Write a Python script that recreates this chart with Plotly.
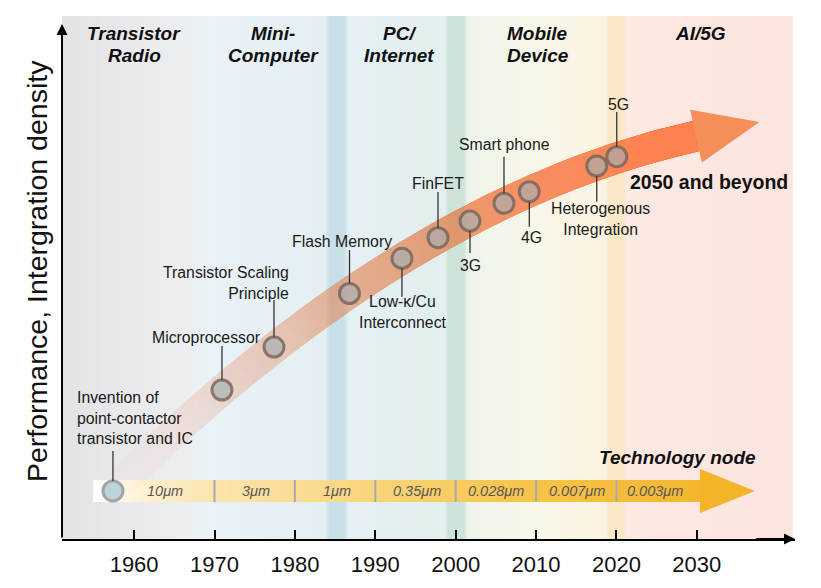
import numpy as np
import plotly.graph_objects as go

# ---------------- data ----------------
tick_years = [1960, 1970, 1980, 1990, 2000, 2010, 2020, 2030]
tick_labels = ["1960", "1970", "1980", "1990", "2000", "2010", "2020", "2030"]

era_line1 = ["Transistor", "Mini-", "PC/", "Mobile", "AI/5G"]
era_line2 = ["Radio", "Computer", "Internet", "Device", ""]
era_center = [1960.0, 1977.3, 1993.0, 2010.2, 2030.4]

milestone_names = [
    "Invention of<br>point-contactor<br>transistor and IC",
    "Microprocessor",
    "Transistor Scaling<br>Principle",
    "Flash Memory",
    "Low-κ/Cu<br>Interconnect",
    "FinFET",
    "3G",
    "Smart phone",
    "4G",
    "Heterogenous<br>Integration",
    "5G",
]
milestone_year = [1957.37, 1970.93, 1977.40, 1986.79, 1993.32, 1997.80,
                  2001.78, 2006.01, 2009.16, 2017.55, 2020.04]
milestone_perf = [9.18, 28.49, 36.71, 46.94, 53.67, 57.61,
                  60.80, 64.19, 66.41, 71.32, 73.10]

node_labels = ["10μm", "3μm", "1μm", "0.35μm", "0.028μm", "0.007μm", "0.003μm"]
node_center = [1963.90, 1975.10, 1985.24, 1995.19, 2005.02, 2015.03, 2024.79]
node_bounds = [1970, 1980, 1990, 2000, 2010, 2020]

# ---------------- layout geometry / styles ----------------
# the page adds an 8px body margin, so the figure is drawn 8px smaller
OFF = 8
W, H = 821 - OFF, 588 - OFF
ML, MR, MT, MB = 62 - OFF, 26, 16 - OFF, 49
X0, X1 = 1951.03, 2042.21
Y0, Y1 = 0.0, 100.0
PW, PH = W - ML - MR, H - MT - MB
FONT = "Liberation Sans, Arial, Helvetica, sans-serif"


# helpers work in page pixel coordinates of the final screenshot
def xpx(x):
    return (ML + OFF) + (np.asarray(x) - X0) * PW / (X1 - X0)


def ypx(y):
    return (H - MB + OFF) - (np.asarray(y) - Y0) * PH / (Y1 - Y0)


def xdat(px):
    return X0 + (np.asarray(px) - ML - OFF) * (X1 - X0) / PW


def ydat(py):
    return Y0 + ((H - MB + OFF) - np.asarray(py)) * (Y1 - Y0) / PH


fig = go.Figure()

# ---- era background (horizontal gradient) ----
bg_stops = [
    (1951.03, "#e3e3e5"), (1966.0, "#edeef0"), (1969.3, "#e9f2f6"),
    (1983.8, "#e3eff3"), (1984.3, "#c9dfe8"), (1986.1, "#c9dfe8"),
    (1986.7, "#e4f0f3"), (1998.7, "#e2efee"), (1999.1, "#cde2d9"),
    (2001.0, "#cde2d9"), (2001.5, "#eef4ea"), (2010.0, "#f8f7e9"),
    (2018.6, "#fbf3e2"), (2019.1, "#fae8c6"), (2020.8, "#fae8c6"),
    (2021.3, "#fce9e2"), (2042.0, "#fce4df"),
]
bg_lo, bg_hi = bg_stops[0][0], bg_stops[-1][0]
bg_edges = np.linspace(bg_lo, bg_hi, 1001)
bg_mid = (bg_edges[:-1] + bg_edges[1:]) / 2
fig.add_trace(go.Heatmap(
    x=bg_edges, y=[Y0, Y1], z=[bg_mid], zmin=bg_lo, zmax=bg_hi,
    colorscale=[[(yr - bg_lo) / (bg_hi - bg_lo), c] for yr, c in bg_stops],
    showscale=False, hoverinfo="skip"))

# ---- technology-node bar ----
bar_x0, bar_x1 = float(xdat(93)), float(xdat(700))
bar_y0, bar_y1 = float(ydat(502)), float(ydat(480))
bar_mid_y = (bar_y0 + bar_y1) / 2
bar_stops = [
    (bar_x0, "#ffffff"), (1957.5, "#fefbf2"), (1962.0, "#fcefcc"),
    (1970.0, "#fbe4ad"), (1990.0, "#f9d47a"), (2010.0, "#f6c34a"),
    (bar_x1, "#f4b62e"),
]
bar_edges = np.linspace(bar_x0, bar_x1, 401)
bar_mid = (bar_edges[:-1] + bar_edges[1:]) / 2
fig.add_trace(go.Heatmap(
    x=bar_edges, y=[bar_y0, bar_y1], z=[bar_mid], zmin=bar_x0, zmax=bar_x1,
    colorscale=[[(yr - bar_x0) / (bar_x1 - bar_x0), c] for yr, c in bar_stops],
    showscale=False, hoverinfo="skip"))
head_half = float(ydat(469)) - bar_mid_y
head_tip = float(xdat(755))
fig.add_trace(go.Scatter(
    x=[bar_x1, head_tip, bar_x1, bar_x1],
    y=[bar_mid_y + head_half, bar_mid_y, bar_mid_y - head_half, bar_mid_y + head_half],
    mode="lines", fill="toself", fillcolor="#f4b42a", line=dict(width=0),
    hoverinfo="skip", showlegend=False))

# ---- orange trend band (fit through milestones) ----
mx, my = xpx(milestone_year), ypx(milestone_perf)
coef = np.polyfit(mx, my, 2)
dcoef = np.polyder(coef)
s = np.linspace(100, 696, 100)
cy = np.polyval(coef, s)
dy = np.polyval(dcoef, s)
nrm = np.sqrt(1 + dy ** 2)
tx, ty = 1 / nrm, dy / nrm
nx, ny = -ty, tx
HW = 15.5
ux, uy = s + HW * nx, cy + HW * ny
lx, ly = s - HW * nx, cy - HW * ny

a_px = [100, 150, 222, 274, 349, 402, 470, 530, 600, 696]
a_val = [0.0, 0.07, 0.22, 0.34, 0.53, 0.62, 0.72, 0.80, 0.87, 0.92]
alpha = np.interp(s, a_px, a_val)
band_rgb = "244,136,80"
prev = 0.0
for i in range(len(s) - 1):
    a = alpha[i]
    if a <= prev + 1e-6:
        continue
    d = 1 - (1 - a) / (1 - prev)
    prev = a
    px_poly = np.concatenate([ux[i:], lx[i:][::-1], [ux[i]]])
    py_poly = np.concatenate([uy[i:], ly[i:][::-1], [uy[i]]])
    fig.add_trace(go.Scatter(
        x=xdat(px_poly), y=ydat(py_poly), mode="lines", fill="toself",
        fillcolor=f"rgba({band_rgb},{d:.4f})", line=dict(width=0),
        hoverinfo="skip", showlegend=False))

# arrow head of trend band
bx, by = s[-1], cy[-1]
etx, ety, enx, eny = tx[-1], ty[-1], nx[-1], ny[-1]
HH, HL = 27, 65
ah_x = [bx + HH * enx, bx + HL * etx, bx - HH * enx, bx + HH * enx]
ah_y = [by + HH * eny, by + HL * ety, by - HH * eny, by + HH * eny]
fig.add_trace(go.Scatter(
    x=xdat(ah_x), y=ydat(ah_y), mode="lines", fill="toself",
    fillcolor=f"rgba({band_rgb},0.93)", line=dict(width=0),
    hoverinfo="skip", showlegend=False))

# ---- milestone markers ----
fig.add_trace(go.Scatter(
    x=milestone_year[1:], y=milestone_perf[1:], mode="markers",
    marker=dict(size=20, color="rgba(165,175,178,0.65)",
                line=dict(color="rgba(120,100,90,0.82)", width=3)),
    hoverinfo="skip", showlegend=False))
fig.add_trace(go.Scatter(
    x=milestone_year[:1], y=milestone_perf[:1], mode="markers",
    marker=dict(size=20, color="#bcd5db", line=dict(color="#a4a4a4", width=3)),
    hoverinfo="skip", showlegend=False))

# ---- milestone labels & leader lines ----
# (label x, label y, xanchor, leader end) in data units
label_pos = [
    (xdat(75), ydat(417.5), "left", ydat(451)),
    (xdat(262), ydat(337), "right", ydat(346)),
    (xdat(291), ydat(282.5), "right", ydat(300)),
    (xdat(341.7), ydat(241.7), "center", ydat(250)),
    (xdat(403), ydat(312.2), "center", ydat(296.7)),
    (xdat(438.3), ydat(183.3), "center", ydat(192)),
    (xdat(470), ydat(265.7), "center", ydat(253)),
    (xdat(504), ydat(144), "center", ydat(156.7)),
    (xdat(531), ydat(237.3), "center", ydat(226.7)),
    (xdat(600), ydat(219.2), "center", ydat(201.7)),
    (xdat(618), ydat(104), "center", ydat(112)),
]
R = 10 * (Y1 - Y0) / PH
shapes = []
annotations = []
for name, xv, yv, (lxv, lyv, xa, lead) in zip(milestone_names, milestone_year,
                                              milestone_perf, label_pos):
    start = yv + R if lead > yv else yv - R
    shapes.append(dict(type="line", xref="x", yref="y", x0=xv, x1=xv,
                       y0=start, y1=float(lead),
                       line=dict(color="#333333", width=1.3), layer="above"))
    annotations.append(dict(x=float(lxv), y=float(lyv), xref="x", yref="y",
                            text=name, showarrow=False, xanchor=xa,
                            yanchor="middle", align=xa,
                            font=dict(family=FONT, size=15.8, color="#1a1a1a")))

# ---- technology node separators & labels ----
for b in node_bounds:
    shapes.append(dict(type="line", xref="x", yref="y", x0=b, x1=b,
                       y0=bar_y0, y1=bar_y1,
                       line=dict(color="#a9a9b3", width=2), layer="above"))
for lab, xc in zip(node_labels, node_center):
    annotations.append(dict(x=xc, y=bar_mid_y, xref="x", yref="y", text=lab,
                            showarrow=False, xanchor="center", yanchor="middle",
                            font=dict(family=FONT, size=14.5, color="#585858",
                                      style="italic")))
annotations.append(dict(x=float(xdat(677)), y=float(ydat(457)), xref="x", yref="y",
                        text="Technology node", showarrow=False,
                        font=dict(family=FONT, size=19, color="#111111",
                                  weight="bold", style="italic")))
annotations.append(dict(x=float(xdat(709)), y=float(ydat(182)), xref="x", yref="y",
                        text="2050 and beyond", showarrow=False,
                        font=dict(family=FONT, size=19.5, color="#111111",
                                  weight="bold")))

# ---- era headers ----
for l1, l2, xc in zip(era_line1, era_line2, era_center):
    annotations.append(dict(x=xc, y=float(ydat(33)), xref="x", yref="y", text=l1,
                            showarrow=False, yanchor="middle",
                            font=dict(family=FONT, size=19, color="#111111",
                                      weight="bold", style="italic")))
    if l2:
        annotations.append(dict(x=xc, y=float(ydat(55)), xref="x", yref="y", text=l2,
                                showarrow=False, yanchor="middle",
                                font=dict(family=FONT, size=19, color="#111111",
                                          weight="bold", style="italic")))

# ---- axis arrows & title ----
annotations.append(dict(x=X0, y=float(ydat(24)), xref="x", yref="y",
                        ax=X0, ay=Y0, axref="x", ayref="y", text="",
                        showarrow=True, arrowhead=2, arrowsize=1.1, arrowwidth=2,
                        arrowcolor="#000000", standoff=0))
annotations.append(dict(x=X1, y=Y0, xref="x", yref="y",
                        ax=X1 - 5, ay=Y0, axref="x", ayref="y", text="",
                        showarrow=True, arrowhead=2, arrowsize=1.1, arrowwidth=2,
                        arrowcolor="#000000", standoff=0))
annotations.append(dict(x=float((37 - ML - OFF) / PW),
                        y=float(((H - MB + OFF) - 271) / PH),
                        xref="paper", yref="paper",
                        text="Performance, Intergration density", showarrow=False,
                        textangle=-90, xanchor="center", yanchor="middle",
                        font=dict(family=FONT, size=28.5, color="#111111")))

fig.update_layout(
    width=W, height=H,
    margin=dict(l=ML, r=MR, t=MT, b=MB, pad=0),
    paper_bgcolor="white", plot_bgcolor="white",
    showlegend=False,
    shapes=shapes, annotations=annotations,
    xaxis=dict(range=[X0, X1], tickmode="array", tickvals=tick_years,
               ticktext=tick_labels, ticks="inside", ticklen=9, tickwidth=2,
               tickcolor="#000000", showline=True, linecolor="#000000",
               linewidth=2, showgrid=False, zeroline=False,
               ticklabelstandoff=5,
               tickfont=dict(family=FONT, size=22, color="#111111"),
               fixedrange=True),
    yaxis=dict(range=[Y0, Y1], showticklabels=False, ticks="", showline=False,
               showgrid=False, zeroline=False, fixedrange=True),
)

fig.write_html("out.html")
